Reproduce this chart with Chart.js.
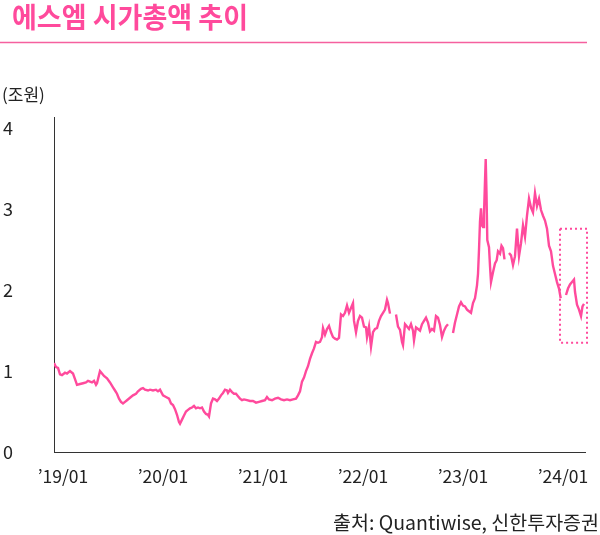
<!DOCTYPE html>
<html>
<head>
<meta charset="utf-8">
<script src="https://cdn.jsdelivr.net/npm/chart.js@4.4.1/dist/chart.umd.min.js"></script>
<style>
  html, body { margin: 0; padding: 0; background: #fff; }
  #wrap { position: relative; width: 600px; height: 535px; }
</style>
</head>
<body>
<div id="wrap"><canvas id="c" width="600" height="535"></canvas></div>
<script>
// ---- data ----
const titleText = '에스엠 시가총액 추이';
const unitText = '(조원)';
const sourceText = '출처: Quantiwise, 신한투자증권';
const yTicks = [0, 1, 2, 3, 4];
const xTickYears = [2019, 2020, 2021, 2022, 2023, 2024];
const xTickLabels = ["’19/01", "’20/01", "’21/01", "’22/01", "’23/01", "’24/01"];
// decimal years
const dates = [
2019.00,2019.02,2019.04,2019.06,2019.08,2019.11,2019.13,2019.16,2019.18,2019.19,
2019.21,2019.23,2019.26,2019.29,2019.32,2019.34,2019.36,2019.38,2019.40,2019.42,
2019.43,2019.45,2019.46,2019.48,2019.50,2019.53,2019.56,2019.59,2019.61,2019.63,
2019.65,2019.67,2019.69,2019.71,2019.73,2019.76,2019.79,2019.82,2019.84,2019.87,
2019.89,2019.91,2019.94,2019.96,2019.99,2020.02,2020.04,2020.06,2020.09,2020.12,
2020.15,2020.17,2020.19,2020.21,2020.23,2020.25,2020.26,2020.28,2020.30,2020.32,
2020.34,2020.36,2020.38,2020.40,2020.42,2020.44,2020.46,2020.48,2020.50,2020.52,
2020.54,2020.55,2020.57,2020.59,2020.61,2020.63,2020.65,2020.67,2020.69,2020.71,
2020.73,2020.74,2020.76,2020.78,2020.80,2020.82,2020.84,2020.86,2020.88,2020.90,
2020.93,2020.96,2020.99,2021.02,2021.05,2021.08,2021.11,2021.13,2021.15,2021.18,
2021.21,2021.24,2021.27,2021.30,2021.33,2021.36,2021.39,2021.42,2021.44,2021.46,
2021.48,2021.50,2021.52,2021.54,2021.56,2021.58,2021.60,2021.62,2021.64,2021.66,
2021.68,2021.69,2021.71,2021.73,2021.75,2021.77,2021.79,2021.81,2021.83,2021.85,
2021.87,2021.89,2021.91,2021.93,2021.95,2021.97,2021.99,2022.00,2022.02,2022.04,
2022.06,2022.08,2022.10,2022.12,2022.13,2022.15,2022.17,2022.19,2022.21,2022.23,
2022.25,2022.27,2022.29,2022.31,2022.33,2022.34,2022.36,2022.38,2022.42,2022.44,
2022.46,2022.48,2022.49,2022.51,2022.53,2022.55,2022.57,2022.59,2022.60,2022.62,
2022.64,2022.66,2022.68,2022.70,2022.72,2022.74,2022.76,2022.78,2022.80,2022.82,
2022.84,2022.86,2022.88,2022.90,2022.92,2022.94,2022.96,2022.99,2023.01,2023.03,
2023.05,2023.07,2023.09,2023.11,2023.13,2023.15,2023.17,2023.19,2023.21,2023.23,
2023.24,2023.25,2023.26,2023.27,2023.28,2023.29,2023.30,2023.31,2023.317,2023.325,
2023.333,2023.35,2023.36,2023.37,2023.39,2023.41,2023.427,2023.44,2023.46,2023.475,
2023.49,2023.505,2023.52,2023.55,2023.57,2023.59,2023.61,2023.63,2023.65,2023.67,
2023.69,2023.71,2023.73,2023.75,2023.77,2023.79,2023.81,2023.83,2023.85,2023.87,
2023.89,2023.91,2023.93,2023.95,2023.97,2023.99,2024.01,2024.03,2024.05,2024.067,
2024.08,2024.12,2024.14,2024.16,2024.18,2024.20,2024.21,2024.23,2024.25,2024.27,
2024.285,2024.30
];
// market cap, trillion KRW (null = gap in the series)
const marketCap = [
1.10,1.05,1.04,0.96,0.95,0.98,0.97,1.00,0.98,0.97,
0.90,0.83,0.84,0.85,0.86,0.88,0.87,0.86,0.88,0.83,
0.85,0.95,1.00,0.97,0.94,0.91,0.86,0.80,0.76,0.72,
0.66,0.62,0.60,0.62,0.64,0.67,0.70,0.72,0.75,0.78,
0.79,0.77,0.76,0.77,0.76,0.77,0.75,0.77,0.70,0.68,
0.66,0.60,0.58,0.53,0.46,0.37,0.35,0.40,0.45,0.50,
0.52,0.54,0.55,0.57,0.54,0.55,0.54,0.55,0.50,0.47,
0.46,0.44,0.60,0.66,0.65,0.63,0.66,0.70,0.73,0.77,
0.76,0.73,0.77,0.74,0.72,0.72,0.69,0.66,0.64,0.65,
0.64,0.63,0.63,0.61,0.62,0.63,0.64,0.68,0.65,0.64,
0.66,0.67,0.65,0.64,0.65,0.64,0.65,0.66,0.70,0.75,
0.87,0.92,1.00,1.06,1.15,1.22,1.28,1.36,1.35,1.36,
1.42,1.53,1.45,1.52,1.56,1.48,1.42,1.40,1.39,1.41,
1.70,1.68,1.72,1.81,1.72,1.78,1.84,1.62,1.48,1.62,
1.68,1.66,1.55,1.54,1.42,1.55,1.30,1.48,1.52,1.53,
1.62,1.68,1.72,1.76,1.88,1.84,1.71,null,1.70,1.55,
1.51,1.36,1.32,1.58,1.55,1.52,1.58,1.50,1.38,1.54,
1.52,1.50,1.58,1.62,1.66,1.60,1.49,1.52,1.50,1.68,
1.66,1.57,1.42,1.50,1.55,1.58,null,1.47,1.60,1.70,
1.80,1.85,1.81,1.80,1.76,1.74,1.72,1.84,1.90,2.06,
2.20,2.50,2.85,3.01,2.80,2.78,2.94,3.35,3.62,3.20,
2.62,2.53,2.30,2.10,2.22,2.33,2.37,2.48,2.45,2.55,
2.52,2.38,null,2.46,2.43,2.31,2.42,2.76,2.42,2.58,
2.80,2.66,2.92,3.13,3.02,2.96,3.20,3.04,3.13,2.99,
2.92,2.86,2.76,2.55,2.48,2.30,2.20,2.10,2.02,1.90,
null,1.94,2.02,2.07,2.10,2.13,1.98,1.82,1.76,1.68,
1.80,1.83
];
// highlighted range (dotted box): [startYear, endYear], [low, high]
const boxYears = [2024.06, 2024.33];
const boxValues = [1.35, 2.76];

const PINK = '#ff4a9c';
const FONT = '"Noto Sans CJK KR", "Noto Sans", sans-serif';

const points = dates.map((d, i) => ({ x: d, y: marketCap[i] }));

const decor = {
  id: 'decor',
  afterDraw(chart) {
    const ctx = chart.ctx;
    const xs = chart.scales.x, ys = chart.scales.y;
    ctx.save();
    // title
    ctx.fillStyle = PINK;
    ctx.font = 'bold 28px ' + FONT;
    ctx.textBaseline = 'alphabetic';
    ctx.textAlign = 'left';
    const tw = ctx.measureText(titleText).width;
    ctx.save();
    ctx.translate(12, 28);
    ctx.scale(236 / tw, 1);
    ctx.fillText(titleText, 0, 0);
    ctx.restore();
    // title underline
    ctx.strokeStyle = '#f5609f';
    ctx.lineWidth = 1.5;
    ctx.beginPath();
    ctx.moveTo(0, 42.5);
    ctx.lineTo(587, 42.5);
    ctx.stroke();
    // unit
    ctx.fillStyle = '#222';
    ctx.font = '17px ' + FONT;
    ctx.textBaseline = 'middle';
    ctx.fillText(unitText, 2, 95);
    // source
    ctx.textAlign = 'right';
    ctx.font = '19.5px ' + FONT;
    ctx.fillText(sourceText, 599, 523);
    // dotted box
    const x1 = xs.getPixelForValue(boxYears[0]);
    const x2 = xs.getPixelForValue(boxYears[1]);
    const y1 = ys.getPixelForValue(boxValues[1]);
    const y2 = ys.getPixelForValue(boxValues[0]);
    ctx.strokeStyle = PINK;
    ctx.lineWidth = 2;
    ctx.setLineDash([2, 3]);
    ctx.strokeRect(x1, y1, x2 - x1, y2 - y1);
    ctx.restore();
  }
};

new Chart(document.getElementById('c'), {
  type: 'line',
  data: {
    datasets: [{
      data: points,
      borderColor: PINK,
      borderWidth: 2.4,
      pointRadius: 0,
      tension: 0,
      spanGaps: false,
      fill: false
    }]
  },
  options: {
    responsive: false,
    animation: false,
    devicePixelRatio: 1,
    layout: { padding: { left: 3, right: 15, top: 117, bottom: 0 } },
    plugins: { legend: { display: false }, tooltip: { enabled: false }, title: { display: false } },
    scales: {
      x: {
        type: 'linear',
        min: 2019,
        max: 2024.31,
        afterFit(scale) { scale.height = 83; },
        afterBuildTicks(scale) { scale.ticks = xTickYears.map(v => ({ value: v })); },
        grid: { display: false, drawTicks: false },
        border: { display: true, color: '#333', width: 1 },
        ticks: {
          autoSkip: false,
          maxRotation: 0,
          labelOffset: 9,
          padding: 14,
          color: '#222',
          font: { family: FONT, size: 17.5 },
          callback(v) { const i = xTickYears.indexOf(v); return i >= 0 ? xTickLabels[i] : ''; }
        }
      },
      y: {
        min: 0,
        max: 4.14,
        afterFit(scale) { scale.width = 51; },
        afterBuildTicks(scale) { scale.ticks = yTicks.map(v => ({ value: v })); },
        grid: { display: false, drawTicks: false },
        border: { display: true, color: '#333', width: 1 },
        ticks: {
          crossAlign: 'far',
          color: '#222',
          font: { family: FONT, size: 18 },
          callback(v) { return String(v); }
        }
      }
    }
  },
  plugins: [decor]
});
</script>
</body>
</html>
